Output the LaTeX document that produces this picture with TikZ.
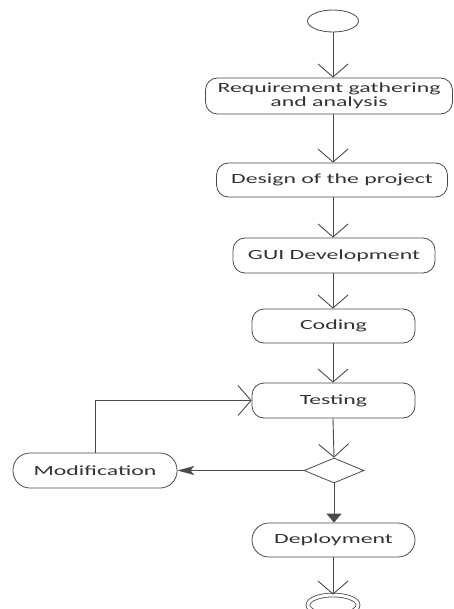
\documentclass[tikz,border=0pt]{standalone}
\usepackage{fontspec}
\usetikzlibrary{arrows.meta,shapes.geometric}
\newfontfamily\boxfont[FakeStretch=1.7]{Carlito}
\definecolor{linegray}{HTML}{4A4A4A}
\definecolor{textgray}{HTML}{333333}
\tikzset{
    activity/.style={draw=linegray, line width=0.8pt, rounded corners=12pt,
        minimum height=35pt, inner sep=0pt, align=center,
        font=\boxfont\fontsize{14pt}{14pt}\selectfont, text=textgray},
    capsule/.style={activity, rounded corners=17pt},
    flow/.style={draw=linegray, line width=0.9pt, -{Straight Barb[length=13pt,width=30pt]}},
    guard/.style={draw=linegray, line width=0.9pt, -{Triangle[length=9pt,width=15pt]}},
    back/.style={draw=linegray, line width=0.9pt, -{Stealth[length=17pt,width=9pt,inset=4pt]}}
}
\begin{document}
\begin{tikzpicture}[x=1pt,y=-1pt]
    \useasboundingbox (0,0) rectangle (453,609);
    %% start and end
    \node[ellipse, draw=linegray, line width=0.8pt, minimum width=51pt, minimum height=22pt, inner sep=0pt] (start) at (333,21) {};
    \begin{scope}
        \clip (0,0) rectangle (453,609);
        \node[ellipse, draw=linegray, line width=0.8pt, double, double distance=3pt, minimum width=50pt, minimum height=20pt, inner sep=0pt] (finish) at (333,605) {};
    \end{scope}
    %% activities
    \node[activity, minimum width=247pt, minimum height=36pt] (req) at (329,96) {Requirement gathering\\and analysis};
    \node[activity, minimum width=231pt, minimum height=34pt] (design) at (332,180) {Design of the project};
    \node[activity, minimum width=202pt] (gui) at (334,255.5) {GUI Development};
    \node[activity, minimum width=163pt, minimum height=34pt] (coding) at (333.5,326) {Coding};
    \node[activity, minimum width=163pt] (testing) at (333.5,400.5) {Testing};
    \node[diamond, draw=linegray, line width=0.8pt, minimum width=60pt, minimum height=25pt, inner sep=0pt] (decide) at (334,470.5) {};
    \node[capsule, minimum width=164pt] (modif) at (95,470.5) {Modification};
    \node[capsule, minimum width=163pt, minimum height=34pt] (deploy) at (333.5,540) {Deployment};
    %% flow
    \draw[flow] (start) -- (start |- req.north);
    \draw[flow] (start |- req.south) -- (start |- design.north);
    \draw[flow] (start |- design.south) -- (start |- gui.north);
    \draw[flow] (start |- gui.south) -- (start |- coding.north);
    \draw[flow] (start |- coding.south) -- (start |- testing.north);
    \draw[flow] (start |- testing.south) -- (decide.north);
    \draw[back] (decide.west) -- (modif.east);
    \draw[flow] (modif.north) |- (testing.west);
    \draw[guard] (decide.south) -- (decide |- deploy.north);
    \draw[flow] (start |- deploy.south) -- (finish.north);
\end{tikzpicture}
\end{document}
